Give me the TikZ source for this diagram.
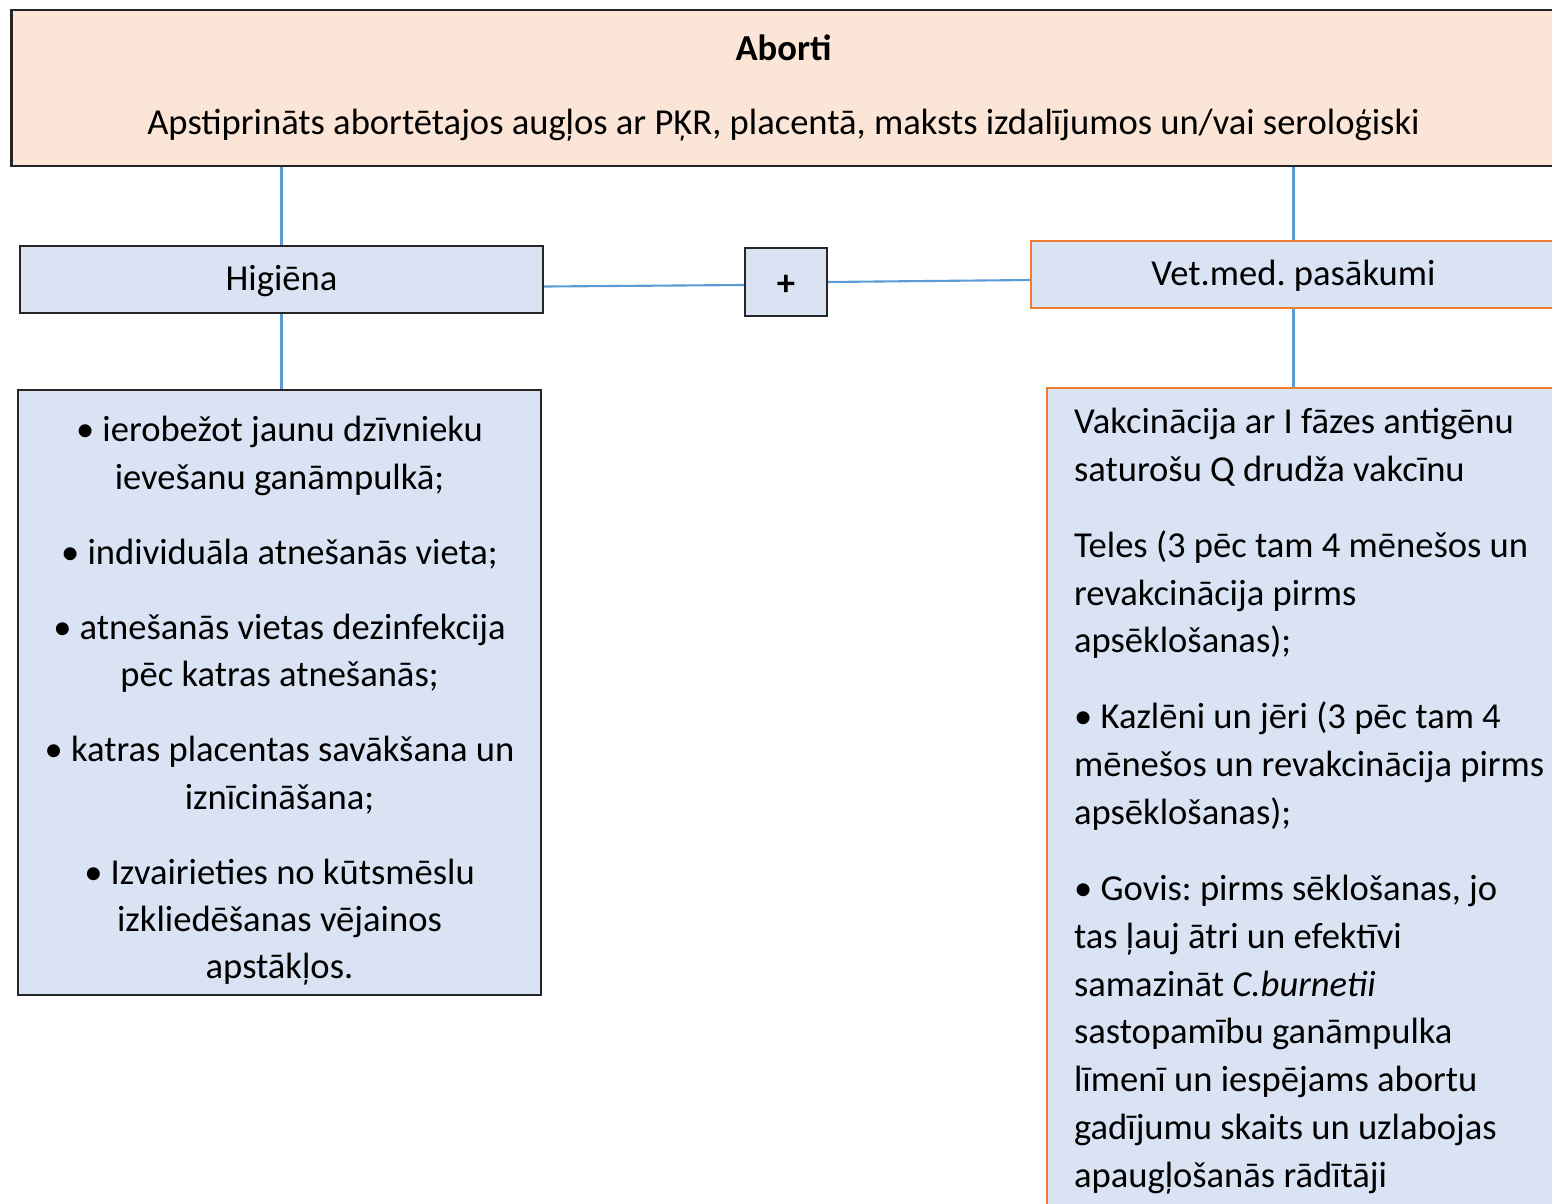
\documentclass[tikz,border=0pt]{standalone}
\usepackage{fontspec}
\setmainfont{Carlito}
\usetikzlibrary{positioning}
\definecolor{mypeach}{RGB}{251,229,214}
\definecolor{myblue}{RGB}{218,227,243}
\definecolor{myorange}{RGB}{237,125,49}
\definecolor{mylink}{RGB}{91,155,213}
\definecolor{myline}{RGB}{38,38,38}
\newcommand{\TxtSize}{\fontsize{10.4}{13.4}\selectfont\frenchspacing}
\newcommand{\ParGap}{\\[8pt]}

\begin{document}
\begin{tikzpicture}[x=0.01cm,y=-0.01cm,
  box/.style={draw=myline, line width=0.6pt, fill=myblue, inner sep=0pt, font=\TxtSize},
  vbox/.style={box, draw=myorange},
  link/.style={draw=mylink, line width=0.6pt}]
  \useasboundingbox (0,0) rectangle (1552,1203);
  \clip (0,0) rectangle (1552,1203);
  \node[box, fill=mypeach, minimum width=15.43cm, minimum height=1.56cm, align=center]
    (A) at (783.5, 88) {\textbf{Aborti}\\[7.7pt]Apstiprināts abortētajos augļos ar PĶR, placentā, maksts izdalījumos un/vai seroloģiski};
  \node[box, minimum width=5.23cm, minimum height=0.67cm, text depth=1pt] (H) at (281.5, 279.5) {Higiēna};
  \node[box, minimum width=0.82cm, minimum height=0.68cm, text height=7.9pt, text depth=0pt] (P) at (786, 282) {\textbf{+}};
  \node[vbox, minimum width=5.25cm, minimum height=0.67cm, text depth=1pt] (V) at (1293.5, 274.5) {Vet.med. pasākumi};
  \node[box, minimum width=5.23cm, minimum height=6.05cm, align=center] (HL) at (279.5, 692.5)
    {\rule{0pt}{12pt}• ierobežot jaunu dzīvnieku\\ievešanu ganāmpulkā;\ParGap
     • individuāla atnešanās vieta;\ParGap
     • atnešanās vietas dezinfekcija\\pēc katras atnešanās;\ParGap
     • katras placentas savākšana un\\iznīcināšana;\ParGap
     • Izvairieties no kūtsmēslu\\izkliedēšanas vējainos\\apstākļos.};
  \node[vbox, anchor=north west, text width=5.2cm, align=flush left, inner xsep=0.27cm, inner ysep=0.2cm,
    font=\fontsize{10.4}{13.6}\selectfont\frenchspacing] (VL) at (1046, 387)
    {Vakcinācija ar I fāzes antigēnu\\saturošu Q drudža vakcīnu\ParGap
     Teles (3 pēc tam 4 mēnešos un\\revakcinācija pirms\\apsēklošanas);\ParGap
     • Kazlēni un jēri (3 pēc tam 4\\mēnešos un revakcinācija pirms\\apsēklošanas);\ParGap
     • Govis: pirms sēklošanas, jo\\tas ļauj ātri un efektīvi\\samazināt \textit{C.burnetii}\\sastopamību ganāmpulka\\līmenī un iespējams abortu\\gadījumu skaits un uzlabojas\\apaugļošanās rādītāji\rule[-0.6cm]{0pt}{0.6cm}};
  \draw[link] (A.south -| H.north) -- (H.north);
  \draw[link] (A.south -| V.north) -- (V.north);
  \draw[link] ([yshift=-0.07cm]H.east) -- ([yshift=-0.03cm]P.west);
  \draw[link] (P.east) -- ([yshift=-0.055cm]V.west);
  \draw[link] (H.south) -- (H.south |- HL.north);
  \draw[link] (V.south) -- (V.south |- VL.north);
\end{tikzpicture}
\end{document}
